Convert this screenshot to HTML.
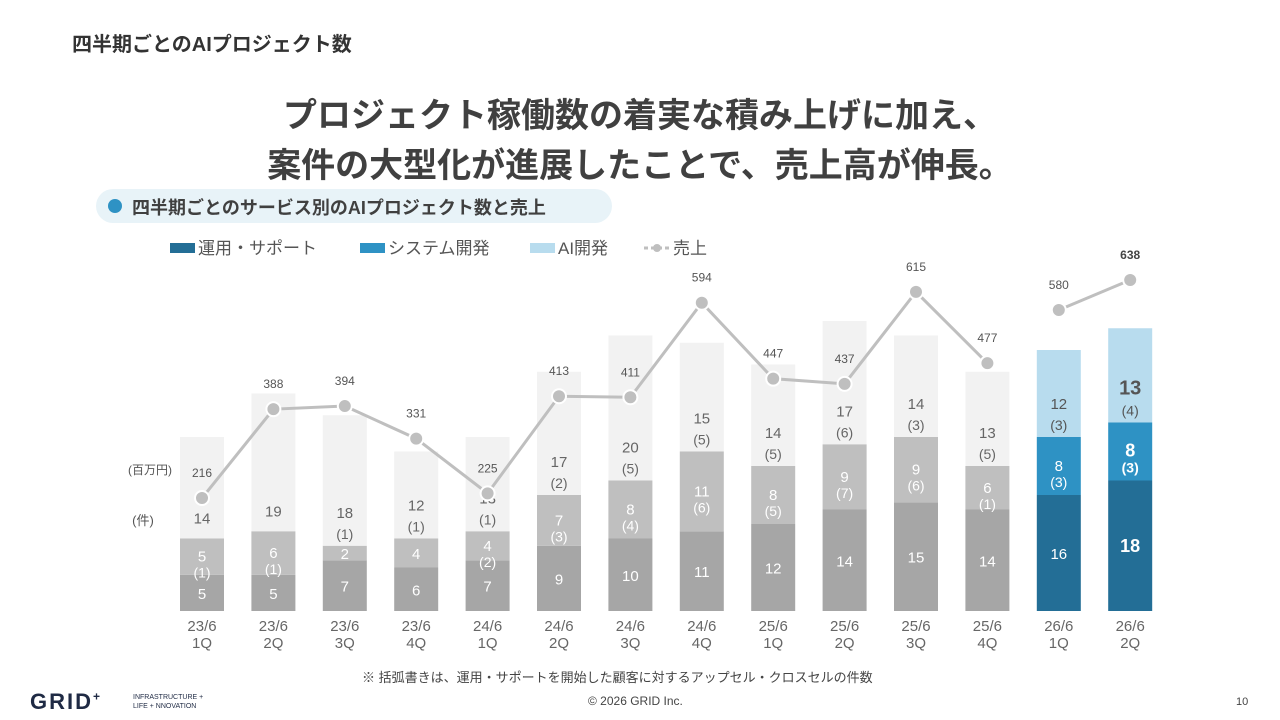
<!DOCTYPE html>
<html><head><meta charset="utf-8"><style>
body{margin:0;width:1280px;height:720px;background:#fff;font-family:"Liberation Sans","Noto Sans CJK JP",sans-serif;overflow:hidden;position:relative}
.a{position:absolute;white-space:nowrap}
</style></head><body>
<div class="a" style="left:72px;top:28px;font-size:20px;font-weight:bold;color:#333">四半期ごとのAIプロジェクト数</div>
<div class="a" style="left:0;width:1280px;top:91px;text-align:center;font-size:34px;font-weight:bold;color:#404040;line-height:50px">プロジェクト稼働数の着実な積み上げに加え、<br>案件の大型化が進展したことで、売上高が伸長。</div>
<div class="a" style="left:96px;top:189px;width:516px;height:34px;border-radius:17px;background:#e8f3f8"></div>
<div class="a" style="left:108px;top:199px;width:14px;height:14px;border-radius:7px;background:#2e92c4"></div>
<div class="a" style="left:132px;top:194px;font-size:18px;font-weight:bold;color:#404040">四半期ごとのサービス別のAIプロジェクト数と売上</div>
<svg id="c" width="1280" height="720" style="position:absolute;left:0;top:0"></svg>
<div class="a" style="left:362px;top:667px;font-size:13px;color:#444">※ 括弧書きは、運用・サポートを開始した顧客に対するアップセル・クロスセルの件数</div>
<div class="a" style="left:588px;top:694px;font-size:12px;color:#444">© 2026 GRID Inc.</div>
<div class="a" style="left:1236px;top:696px;font-size:11px;color:#444">10</div>
<div class="a" style="left:30px;top:689px;font-size:22px;font-weight:bold;color:#1f2a44;letter-spacing:2px">GRID<sup style="font-size:12px">+</sup></div>
<div class="a" style="left:133px;top:693px;font-size:7px;color:#1f2a44;line-height:9px">INFRASTRUCTURE +<br>LIFE + NNOVATION</div>
<script>
const cats=["23/6\n1Q","23/6\n2Q","23/6\n3Q","23/6\n4Q","24/6\n1Q","24/6\n2Q","24/6\n3Q","24/6\n4Q","25/6\n1Q","25/6\n2Q","25/6\n3Q","25/6\n4Q","26/6\n1Q","26/6\n2Q"];
const ops=[5,5,7,6,7,9,10,11,12,14,15,14,16,18];
const sys=[5,6,2,4,4,7,8,11,8,9,9,6,8,8];
const sysUp=[1,1,null,null,2,3,4,6,5,7,6,1,3,3];
const ai=[14,19,18,12,13,17,20,15,14,17,14,13,12,13];
const aiUp=[null,null,1,1,1,2,5,5,5,6,3,5,3,4];
const sales=[216,388,394,331,225,413,411,594,447,437,615,477,580,638];
const svg=document.getElementById('c');const NS='http://www.w3.org/2000/svg';
function el(t,a,txt){const e=document.createElementNS(NS,t);for(const k in a)e.setAttribute(k,a[k]);if(txt!=null)e.textContent=txt;svg.appendChild(e);return e;}
const base=611,unit=7.25,x0=202,step=71.4,bw=44;
const X=i=>x0+i*step, H=v=>v*unit, YS=v=>609.6-v*0.5166;
function tx(x,y,s,col,sz,bold,name){const e=el('text',{x:x,y:y,'text-anchor':'middle','font-size':sz,fill:col,'font-weight':bold?'bold':'normal','font-family':'Liberation Sans, Noto Sans CJK JP, sans-serif'},s);return e;}
[["運用・サポート","#236e96",170],["システム開発","#2e92c4",360],["AI開発","#b8dcee",530]].forEach((l,i)=>{const r=el('rect',{x:l[2],y:243,width:25,height:10,fill:l[1]});const t=el('text',{x:l[2]+28,y:254,'font-size':17,fill:'#555','font-family':'Liberation Sans, Noto Sans CJK JP, sans-serif'},l[0]);});
let ll=el('line',{x1:644,y1:248,x2:670,y2:248,stroke:'#bfbfbf','stroke-width':3,'stroke-dasharray':'4 3'});
let lc=el('circle',{cx:657,cy:248,r:4,fill:'#bfbfbf'});
let lt=el('text',{x:673,y:254,'font-size':17,fill:'#555','font-family':'Liberation Sans, Noto Sans CJK JP, sans-serif'},'売上');
tx(150,474,'(百万円)','#555',12,false,'sales-unit');
tx(143,525,'(件)','#555',13,false,'count-unit');
cats.forEach((c,i)=>{
 const blue=i>=12, cx=X(i), x=cx-bw/2;
 const cO=blue?'#236e96':'#a6a6a6', cS=blue?'#2e92c4':'#bfbfbf', cA=blue?'#b8dcee':'#f2f2f2';
 const y1=base-H(ops[i]), y2=y1-H(sys[i]), y3=y2-H(ai[i]);
 let r;
 r=el('rect',{x:x,y:y1,width:bw,height:H(ops[i]),fill:cO});
 r=el('rect',{x:x,y:y2,width:bw,height:H(sys[i]),fill:cS});
 r=el('rect',{x:x,y:y3,width:bw,height:H(ai[i]),fill:cA});
 const big=i==13, fs=big?18:15;
 tx(cx,(y1+base)/2+6,ops[i],'#fff',fs,big,'label-ops');
 const ms=(y1+y2)/2;
 if(sysUp[i]!=null){tx(cx,ms+5,sys[i],'#fff',fs,big,'label-system');tx(cx,ms+21,'('+sysUp[i]+')','#fff',14,big,'label-system-upsell');}
 else tx(cx,ms+6,sys[i],'#fff',fs,big,'label-system');
 const tc=blue?'#555':'#666';
 if(aiUp[i]!=null){tx(cx,y2-28,ai[i],tc,big?20:15,big,'label-ai');tx(cx,y2-7,'('+aiUp[i]+')',tc,14,false,'label-ai-upsell');}
 else tx(cx,y2-15,ai[i],tc,big?20:15,big,'label-ai');
 c.split('\n').forEach((s,k)=>tx(cx,631+k*17,s,'#666',15,false,'x-tick-label'));
});
[[0,11],[12,13]].forEach(([a,b])=>{let p='';for(let i=a;i<=b;i++)p+=(i==a?'M':'L')+X(i)+' '+YS(sales[i]);const l=el('path',{d:p,fill:'none',stroke:'#bfbfbf','stroke-width':3});});
sales.forEach((v,i)=>{const c=el('circle',{cx:X(i),cy:YS(v),r:7,fill:'#bfbfbf',stroke:'#fff','stroke-width':2});tx(X(i),YS(v)-21,v,i==13?'#444':'#555',12,i==13,'sales-label');});
</script>
</body></html>
